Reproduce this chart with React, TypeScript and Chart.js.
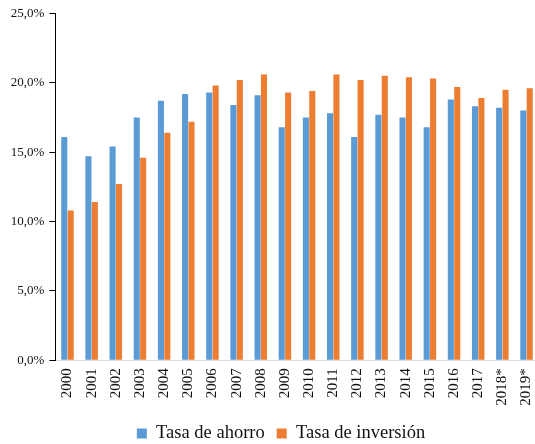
import React, { useEffect, useRef } from 'react';
import { Chart, registerables } from 'chart.js';

Chart.register(...registerables);

const years = ['2000', '2001', '2002', '2003', '2004', '2005', '2006', '2007', '2008', '2009', '2010', '2011', '2012', '2013', '2014', '2015', '2016', '2017', '2018*', '2019*'];
const savingsRate = [16.1, 14.7, 15.4, 17.5, 18.7, 19.2, 19.3, 18.4, 19.1, 16.8, 17.5, 17.8, 16.1, 17.7, 17.5, 16.8, 18.8, 18.3, 18.2, 18.0];
const investmentRate = [10.8, 11.4, 12.7, 14.6, 16.4, 17.2, 19.8, 20.2, 20.6, 19.3, 19.4, 20.6, 20.2, 20.5, 20.4, 20.3, 19.7, 18.9, 19.5, 19.6];
const yTicks = [0, 5, 10, 15, 20, 25];
const seriesNames = ['Tasa de ahorro', 'Tasa de inversión'];

const FONT = "'Liberation Serif', 'Times New Roman', serif";
const PAD_LEFT = 8;
const PLOT_LEFT = 55.4;
const PLOT_RIGHT = 538.6;
const CANVAS_W = 554;

export default function App() {
  const ref = useRef<HTMLCanvasElement | null>(null);

  useEffect(() => {
    document.body.style.margin = '0';
    document.documentElement.style.overflow = 'hidden';
    const canvas = ref.current;
    if (!canvas) return;
    const chart = new Chart(canvas, {
      type: 'bar',
      data: {
        labels: years,
        datasets: [
          {
            label: seriesNames[0],
            data: savingsRate,
            backgroundColor: '#5B9BD5',
            borderWidth: 0,
            categoryPercentage: 0.53,
            barPercentage: 0.95,
          },
          {
            label: seriesNames[1],
            data: investmentRate,
            backgroundColor: '#ED7D31',
            borderWidth: 0,
            categoryPercentage: 0.53,
            barPercentage: 0.95,
          },
        ],
      },
      options: {
        responsive: false,
        animation: false,
        devicePixelRatio: 1,
        layout: { padding: { left: PAD_LEFT, right: 0, top: 13.4, bottom: -8.8 } },
        plugins: {
          tooltip: { enabled: false },
          legend: {
            position: 'bottom',
            labels: {
              boxWidth: 10,
              boxHeight: 10,
              padding: 12,
              color: '#111',
              font: { family: FONT, size: 18.5, lineHeight: 1 },
            },
          },
        },
        scales: {
          x: {
            grid: { display: true, drawOnChartArea: false, drawTicks: false },
            border: { display: true, color: '#d9d9d9', width: 1 },
            ticks: {
              minRotation: 90,
              maxRotation: 90,
              autoSkip: false,
              padding: 8,
              color: '#111',
              font: { family: FONT, size: 15 },
            },
            afterFit: (scale: any) => {
              scale.height = 52;
            },
          },
          y: {
            min: 0,
            max: 25,
            afterBuildTicks: (scale: any) => {
              scale.ticks = yTicks.map((v) => ({ value: v }));
            },
            grid: { display: true, drawOnChartArea: false, drawTicks: true, tickLength: 6, color: '#000' },
            border: { display: true, color: '#000', width: 1 },
            ticks: {
              padding: 5,
              color: '#111',
              font: { family: FONT, size: 13 },
              callback: (v: any) => Number(v).toFixed(1).replace('.', ',') + '%',
            },
            afterFit: (scale: any) => {
              scale.width = PLOT_LEFT - PAD_LEFT;
            },
          },
          spacer: {
            type: 'linear',
            position: 'right',
            display: true,
            grid: { display: false },
            border: { display: false },
            ticks: { display: false },
            afterFit: (scale: any) => {
              scale.width = CANVAS_W - PLOT_RIGHT;
            },
          },
        },
      },
    });
    return () => chart.destroy();
  }, []);

  return (
    <div style={{ width: 535, height: 444, overflow: 'hidden' }}>
      <canvas ref={ref} width={CANVAS_W} height={444} style={{ display: 'block', width: CANVAS_W, height: 444 }} />
    </div>
  );
}
